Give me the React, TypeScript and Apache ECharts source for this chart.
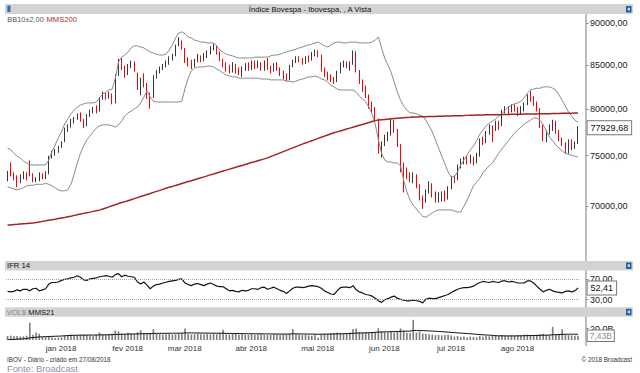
import React, { useEffect, useRef } from "react";
import * as echarts from "echarts";

// ---------- calendar (B3 trading days) ----------
const FIRST_DAY = "2017-12-04";
const LAST_DAY = "2018-08-27";
const HOLIDAYS = ["2017-12-25", "2017-12-29", "2018-01-01", "2018-01-25", "2018-02-12", "2018-02-13", "2018-03-30", "2018-05-01", "2018-05-31", "2018-07-09"];
const MONTH_NAMES = ["jan", "fev", "mar", "abr", "mai", "jun", "jul", "ago", "set", "out", "nov", "dez"];

// ---------- Ibovespa daily candles (points) ----------
const opens = [
  72700, 73250, 73000, 72700, 72300, 72900, 73200, 73500, 73000, 72500,
  72650, 73100, 72800, 73200, 74900, 75300, 75500, 75900, 76450, 77900,
  78000, 78650, 79070, 79380, 78860, 78200, 79350, 79750, 79900, 79800,
  81190, 81680, 81220, 81680, 80700, 83700, 85530, 84700, 83900, 84910,
  85300, 84000, 82000, 83300, 82600, 81300, 81200, 83600, 84200, 84600,
  84900, 85200, 85800, 86050, 87300, 87650, 86950, 85350, 85100, 84800,
  85500, 85900, 85600, 86000, 86400, 86800, 87100, 86400, 85600, 84900,
  84700, 84300, 84900, 84300, 84100, 84600, 85000, 84500, 85350, 84900,
  85200, 84500, 85000, 84700, 84300, 85000, 84500, 84000, 83500, 83300,
  84800, 85400, 85700, 85500, 85300, 85800, 85600, 86300, 86500, 86100,
  84400, 84000, 83500, 83300, 83100, 84200, 85000, 85200, 84900, 85200,
  86400, 84300, 83000, 82200, 81500, 80500, 80100, 78900, 75400, 76300,
  76800, 77200, 78600, 77700, 76100, 74000, 73500, 73000, 72600, 72900,
  72000, 70800, 70600, 71400, 72100, 71100, 70700, 70900, 71000, 70700,
  71700, 72800, 72600, 74000, 74400, 74600, 74400, 74600, 74300, 75000,
  76600, 76500, 77400, 78100, 77700, 78500, 77900, 79700, 80000, 79700,
  80300, 79900, 79600, 79900, 80500, 81500, 81200, 80600, 80000, 78200,
  76600, 77400, 77800, 78600, 77500, 76700, 76200, 75400, 76500, 75900,
  76300,
];
const closes = [
  73250, 73000, 72700, 72300, 72900, 73200, 72700, 73000, 72500, 72650,
  73100, 72800, 73200, 74900, 75300, 75500, 75900, 76400, 77900, 78000,
  78650, 79070, 79380, 78860, 78200, 79350, 79750, 79900, 79800, 81190,
  81680, 81220, 81680, 80680, 83680, 85530, 84700, 83900, 84910, 85300,
  84400, 82400, 83300, 82600, 81300, 81200, 83600, 84200, 84600, 84900,
  85200, 85800, 86050, 87300, 87650, 86950, 85350, 85100, 84800, 85500,
  85900, 85600, 86000, 86400, 86800, 87100, 86400, 85600, 84900, 84700,
  84300, 84900, 84300, 84100, 84600, 85000, 84500, 85350, 84900, 85200,
  84500, 85000, 84700, 84300, 85000, 84500, 84000, 83500, 83300, 84800,
  85400, 85700, 85500, 85300, 85800, 85600, 86300, 86500, 86100, 84400,
  84000, 83500, 83300, 83100, 84200, 85000, 85200, 84900, 85200, 86400,
  84300, 83000, 82200, 81500, 80500, 80100, 78900, 75400, 76300, 76800,
  77200, 78600, 77700, 76100, 73900, 73500, 73000, 72600, 72900, 72000,
  70800, 70600, 71400, 72100, 71100, 70700, 70900, 71000, 70700, 71700,
  72800, 72600, 74000, 74400, 74600, 74400, 74600, 74300, 75000, 76600,
  76500, 77400, 78100, 77700, 78500, 77900, 79700, 80000, 79700, 80300,
  79900, 79600, 79900, 80500, 81500, 81200, 80600, 80000, 78200, 76600,
  77400, 78100, 78600, 77500, 76700, 76200, 75400, 76500, 75900, 76300,
  77929.68,
];
const lows = [
  72400, 72900, 72500, 71800, 72200, 72600, 72500, 72900, 72300, 72300,
  72400, 72600, 72600, 73100, 74700, 75000, 75300, 75800, 76400, 77500,
  77950, 78400, 78800, 78600, 77900, 78100, 79100, 79500, 79500, 79700,
  81000, 81000, 81100, 80500, 80600, 83700, 84400, 83500, 83800, 84600,
  84200, 82100, 81500, 82400, 81100, 80000, 81200, 83400, 84000, 84400,
  84700, 85000, 85500, 86000, 87200, 86800, 85200, 84800, 84500, 84700,
  85300, 85300, 85400, 85800, 86200, 86700, 86200, 85400, 84700, 84200,
  84000, 84100, 84000, 83800, 83600, 84300, 84300, 84400, 84500, 84600,
  84300, 84300, 84400, 84000, 84200, 84300, 83700, 83300, 83100, 83200,
  84700, 85200, 85300, 85000, 85100, 85300, 85500, 86000, 85900, 84200,
  83600, 83200, 83000, 82800, 83000, 84000, 84700, 84600, 84300, 85000,
  84100, 82800, 81900, 81200, 80000, 79500, 78700, 75200, 74800, 76000,
  76500, 77100, 77400, 75900, 73300, 71300, 72600, 72300, 72200, 71700,
  70500, 69700, 70300, 71200, 70800, 70300, 70300, 70400, 70400, 70600,
  71600, 72200, 72500, 73700, 74100, 74100, 74200, 74000, 74200, 74900,
  76100, 76300, 77200, 76400, 77600, 77700, 78100, 79500, 79400, 79600,
  79700, 79200, 79400, 79700, 80400, 80800, 80300, 79700, 77900, 76500,
  76400, 77200, 77600, 77300, 76500, 76000, 75200, 75200, 75600, 75700,
  76200,
];
const highs = [
  73450, 74300, 73300, 73000, 73100, 73400, 73300, 74500, 73200, 72800,
  73300, 73200, 73400, 75000, 75500, 75700, 76000, 76500, 77950, 78300,
  78900, 79100, 79500, 79600, 78900, 79400, 79900, 80200, 80400, 81300,
  81900, 81800, 81900, 81700, 83900, 85700, 85800, 84900, 85100, 85500,
  85400, 84100, 83500, 84000, 82900, 81800, 83800, 84400, 84800, 85100,
  85500, 86000, 86300, 87400, 88300, 87900, 87000, 85900, 85600, 85700,
  86300, 86100, 86400, 86700, 87200, 87500, 87300, 86600, 85700, 85300,
  85000, 85300, 85100, 84700, 84800, 85200, 85300, 85500, 85500, 85500,
  85300, 85500, 85800, 84900, 85200, 85300, 84700, 84300, 84000, 85000,
  85600, 86000, 86000, 85800, 86000, 86100, 86500, 86800, 86700, 86200,
  84700, 84200, 83900, 83600, 84300, 85300, 85500, 85400, 85400, 86700,
  86600, 84400, 83300, 82600, 81600, 80800, 80200, 78950, 76500, 77200,
  77500, 78900, 78800, 77800, 76200, 74300, 73800, 73300, 73300, 73100,
  72100, 71000, 71600, 72400, 72200, 71400, 71300, 71400, 71500, 71900,
  72900, 73000, 74100, 74700, 74900, 75000, 75100, 74900, 75300, 76800,
  77000, 77600, 78300, 78200, 78700, 78700, 79900, 80300, 80300, 80500,
  80500, 80200, 80300, 80700, 81600, 82000, 81400, 80800, 80100, 78300,
  77700, 78300, 78800, 78700, 77700, 76900, 76400, 76700, 76700, 76500,
  78100,
];

// ---------- indicators ----------
const bbUpper = [
  75800, 75600, 75250, 74950, 74750, 74450, 74250, 74050, 74050, 74050,
  74050, 74050, 74050, 74550, 75400, 76100, 76850, 77500, 78350, 78900,
  79450, 79850, 80200, 80400, 80550, 80650, 80650, 80650, 80750, 81200,
  81650, 81850, 82100, 82200, 83450, 85350, 85900, 86150, 86500, 87000,
  87250, 87250, 87100, 87000, 86750, 86500, 86400, 86250, 86150, 86150,
  86250, 86750, 87350, 88200, 88800, 88950, 88700, 88300, 88200, 87950,
  87850, 87700, 87700, 87600, 87600, 87600, 87250, 86750, 86500, 86250,
  86150, 86050, 85900, 85800, 85800, 85800, 85800, 85800, 85900, 85900,
  85900, 85900, 85900, 86050, 86150, 86150, 86250, 86400, 86500, 86650,
  86750, 86850, 87000, 87100, 87250, 87350, 87450, 87600, 87700, 87450,
  87250, 87100, 87350, 87600, 87700, 87700, 87600, 87600, 87700, 87700,
  87700, 87600, 87600, 87600, 87600, 87700, 87950, 88300, 87000, 85800,
  85000, 84150, 83000, 81850, 80950, 80300, 79850, 79550, 79550, 79450,
  79300, 79200, 78750, 78150, 77500, 76650, 75800, 74950, 74150, 73350,
  72800, 72900, 73350, 74050, 74550, 75050, 75600, 76000, 76550, 77250,
  77700, 78150, 78450, 78650, 78900, 79200, 79450, 79850, 80200, 80400,
  80550, 80650, 80850, 81200, 81750, 82100, 82200, 82300, 82300, 82450,
  82450, 82450, 82300, 82100, 81550, 80950, 80300, 79650, 79200, 78750,
  78550,
];
const bbLower = [
  71850, 71750, 71650, 71550, 71650, 71750, 71950, 72000, 72000, 72100,
  72100, 72100, 72200, 72100, 71950, 71750, 71550, 71450, 71450, 71550,
  72100, 73100, 74250, 75250, 76000, 76650, 77050, 77500, 77900, 78150,
  78250, 78250, 78250, 78150, 78000, 78250, 78650, 79200, 79550, 79750,
  80000, 80200, 80650, 81300, 82000, 81300, 80850, 80750, 80750, 80750,
  80750, 80750, 80750, 80750, 80750, 80850, 82300, 83450, 84300, 84600,
  84750, 84750, 84750, 84850, 84850, 84750, 84500, 84300, 84050, 83800,
  83700, 83600, 83600, 83450, 83450, 83450, 83450, 83450, 83450, 83450,
  83350, 83350, 83350, 83250, 83250, 83250, 83250, 83250, 83100, 83100,
  83000, 83100, 83250, 83350, 83450, 83600, 83600, 83700, 83600, 83350,
  83250, 83000, 82650, 82450, 82200, 82100, 82100, 82100, 82100, 82100,
  81850, 81400, 81100, 80750, 80200, 79450, 78350, 76650, 75250, 74550,
  74350, 74350, 74250, 74250, 73950, 72500, 71350, 70550, 70050, 69700,
  69300, 69000, 68900, 69100, 69300, 69500, 69600, 69600, 69600, 69600,
  69600, 69500, 69400, 69400, 69950, 70550, 71250, 71950, 72300, 72700,
  73250, 73650, 73950, 74250, 74750, 75250, 75700, 76100, 76550, 76950,
  77400, 77700, 78000, 78350, 78550, 78750, 79000, 79000, 78750, 78250,
  77600, 76950, 76550, 76100, 75800, 75500, 75250, 75150, 75050, 74950,
  74850,
];
const mms200 = [
  68160, 68180, 68210, 68230, 68260, 68280, 68300, 68330, 68350, 68400,
  68460, 68510, 68560, 68620, 68670, 68720, 68780, 68830, 68880, 68940,
  69000, 69080, 69140, 69200, 69270, 69330, 69390, 69460, 69520, 69580,
  69680, 69780, 69890, 70000, 70100, 70210, 70310, 70400, 70490, 70590,
  70690, 70790, 70890, 70990, 71090, 71190, 71300, 71400, 71500, 71600,
  71700, 71800, 71890, 71990, 72080, 72180, 72270, 72370, 72460, 72560,
  72650, 72750, 72840, 72940, 73040, 73130, 73230, 73330, 73430, 73520,
  73620, 73720, 73810, 73910, 74000, 74100, 74190, 74290, 74380, 74480,
  74570, 74670, 74770, 74900, 75030, 75160, 75290, 75420, 75550, 75680,
  75810, 75940, 76070, 76200, 76320, 76440, 76560, 76680, 76810, 76930,
  77050, 77170, 77290, 77400, 77500, 77600, 77700, 77800, 77900, 78000,
  78100, 78200, 78300, 78400, 78510, 78610, 78710, 78780, 78810, 78840,
  78870, 78900, 78930, 78960, 78990, 79020, 79050, 79070, 79100, 79110,
  79120, 79130, 79140, 79150, 79160, 79170, 79180, 79190, 79200, 79210,
  79220, 79230, 79240, 79250, 79260, 79280, 79290, 79300, 79310, 79320,
  79330, 79340, 79340, 79350, 79360, 79360, 79370, 79380, 79380, 79390,
  79400, 79400, 79410, 79420, 79420, 79430, 79440, 79440, 79450, 79460,
  79470, 79470, 79480, 79490, 79490, 79500, 79510, 79510, 79520, 79530,
  79540,
];
const ifr14 = [
  46, 45, 46, 49, 47, 50, 50, 47, 51, 52,
  47, 49, 51, 60, 63, 63, 64, 67, 69, 70,
  72, 73, 76, 73, 68, 67, 70, 71, 72, 74,
  75, 76, 75, 73, 78, 80, 74, 77, 75, 74,
  73, 64, 60, 64, 58, 51, 56, 59, 60, 62,
  63.5, 65, 66, 67, 69, 70, 62, 59, 57, 60,
  61, 59, 57, 60, 62, 59, 56, 55, 55, 51,
  47, 48, 46, 45, 48, 47, 48, 51, 51, 50,
  53, 54, 50, 52, 54, 51, 48, 46, 42, 47,
  52, 54, 54, 53, 54, 56, 57, 56, 55, 52,
  47, 44, 41, 40, 47, 53, 54, 54, 53, 57,
  49, 45, 43, 40, 39, 37, 33, 28, 25, 30,
  32, 35, 37, 33, 31, 29, 28, 28, 29, 28,
  27, 24, 31, 33, 32, 32, 34, 36, 38, 40,
  44, 47, 50, 52, 53, 53, 54, 56, 60, 63,
  65, 64, 63, 65, 64, 63, 66, 66, 64, 65,
  64, 62, 62, 62, 66, 66, 62, 56, 50, 45,
  48, 50, 47, 45, 44, 43, 46, 47, 45, 47,
  52.41,
];
// financial volume, R$ billions
const volume = [
  7.0, 7.5, 6.5, 7.0, 6.0, 6.5, 7.5, 30.0, 9.0, 13.0,
  11.0, 5.5, 5.0, 6.0, 4.5, 3.5, 4.0, 4.5, 8.0, 8.5,
  9.0, 8.0, 8.5, 9.0, 9.5, 8.5, 8.0, 7.0, 9.0, 13.0,
  10.0, 9.0, 9.5, 11.0, 16.5, 15.0, 11.0, 10.5, 12.5, 11.0,
  10.5, 13.5, 17.0, 12.0, 11.5, 12.0, 19.0, 11.0, 10.5, 9.5,
  10.0, 10.5, 9.5, 10.0, 11.0, 11.5, 20.0, 10.5, 9.5, 10.0,
  11.0, 10.0, 9.5, 10.5, 10.0, 11.0, 10.0, 12.0, 18.0, 10.0,
  9.5, 10.5, 11.0, 9.0, 10.0, 9.5, 9.0, 10.0, 9.0, 9.5,
  10.0, 9.0, 8.5, 9.0, 10.0, 9.5, 9.0, 10.5, 9.5, 11.0,
  19.0, 10.0, 9.0, 8.5, 9.5, 8.0, 7.5, 9.0, 4.0, 10.0,
  11.0, 10.5, 11.5, 12.0, 13.0, 12.5, 11.5, 12.0, 13.0, 19.0,
  20.0, 14.0, 12.5, 13.5, 12.0, 13.0, 14.0, 20.5, 15.0, 13.5,
  13.0, 14.5, 13.0, 15.0, 20.0, 16.0, 12.5, 12.0, 35.0, 13.0,
  15.0, 11.0, 10.5, 10.0, 9.5, 8.5, 9.0, 8.0, 8.5, 9.0,
  8.0, 6.0, 7.0, 5.5, 6.0, 5.0, 6.0, 5.5, 5.0, 7.5,
  5.5, 7.0, 6.5, 7.5, 8.0, 7.0, 8.5, 8.0, 7.5, 8.0,
  7.5, 8.5, 8.0, 9.0, 9.5, 8.5, 8.0, 9.0, 10.0, 11.0,
  9.0, 8.5, 23.0, 9.0, 8.5, 18.5, 9.5, 8.5, 8.0, 7.5,
  7.43,
];
const volMms21 = [
  0.3, 0.7, 1.0, 1.4, 1.7, 2.0, 2.4, 3.8, 4.2, 4.8,
  5.3, 5.6, 5.8, 6.1, 6.3, 6.5, 6.7, 6.9, 7.3, 7.7,
  8.1, 8.2, 8.3, 8.4, 8.5, 8.5, 8.6, 8.6, 8.7, 8.8,
  8.9, 9.0, 9.1, 9.3, 9.6, 9.8, 10.0, 10.1, 10.3, 10.4,
  10.5, 10.6, 10.8, 10.9, 11.0, 11.1, 11.4, 11.5, 11.6, 11.6,
  11.7, 11.7, 11.8, 11.8, 11.9, 11.9, 12.3, 12.3, 12.3, 12.2,
  12.2, 12.1, 12.0, 12.0, 11.9, 11.9, 11.8, 11.8, 11.9, 11.5,
  11.4, 11.3, 11.3, 11.2, 11.1, 11.0, 10.9, 10.9, 10.8, 10.8,
  10.7, 10.7, 10.6, 10.5, 10.5, 10.4, 10.4, 10.4, 10.3, 10.4,
  10.8, 10.7, 10.6, 10.5, 10.4, 10.3, 10.2, 10.2, 10.0, 10.1,
  10.2, 10.3, 10.4, 10.5, 10.6, 10.8, 10.9, 11.0, 11.2, 11.6,
  12.0, 12.2, 12.3, 12.5, 12.7, 12.9, 13.4, 13.7, 14.0, 14.1,
  14.3, 14.5, 14.6, 14.8, 15.1, 15.3, 15.4, 15.4, 16.5, 16.5,
  16.6, 16.3, 16.0, 15.8, 15.5, 15.2, 14.9, 14.5, 14.1, 13.7,
  13.2, 12.8, 12.4, 12.0, 11.6, 11.2, 10.8, 10.4, 9.9, 9.5,
  9.0, 8.7, 8.4, 8.1, 7.5, 7.3, 7.2, 7.1, 7.1, 7.1,
  7.1, 7.2, 7.3, 7.4, 7.6, 7.7, 7.8, 7.9, 8.1, 8.3,
  8.4, 8.5, 9.2, 9.3, 9.4, 9.9, 10.0, 10.1, 10.1, 10.0,
  10.0,
];

// ---------- axis settings ----------
const PRICE_TICKS = [70000, 75000, 80000, 85000, 90000];
const PRICE_RANGE = [65140, 91160];
const IFR_TICKS = [30, 70];
const IFR_RANGE = [18, 85];
const VOL_TICKS = [20];
const VOL_RANGE = [0, 40];

const FONT = '"Liberation Sans", Arial, sans-serif';
const GRID_LEFT = 6;
const GRID_W = 573.6;
const AXIS_OFF = 6.4;
const HEADER_FILL = "#d3d3d3";

function tradingDays(): string[] {
  const out: string[] = [];
  const end = Date.parse(LAST_DAY + "T00:00:00Z");
  for (let t = Date.parse(FIRST_DAY + "T00:00:00Z"); t <= end; t += 86400000) {
    const d = new Date(t);
    const wd = d.getUTCDay();
    const s = d.toISOString().slice(0, 10);
    if (wd !== 0 && wd !== 6 && HOLIDAYS.indexOf(s) < 0) out.push(s);
  }
  return out;
}

const br = (v: number, d: number) => v.toFixed(d).replace(".", ",");

function buildOption() {
  const dates = tradingDays();
  const L = Math.log;
  const candle = dates.map((_, i) => [L(opens[i]), L(closes[i]), L(lows[i]), L(highs[i])]);
  const monthStart = dates.map((d, i) => i > 0 && d.slice(0, 7) !== dates[i - 1].slice(0, 7));
  const lastClose = closes[closes.length - 1];
  const lastIfr = ifr14[ifr14.length - 1];
  const lastVol = volume[volume.length - 1];

  const boxLabel = (fmt: (v: number) => string, color: string, size = 9, pad = [2, 3, 1, 3]) => ({
    show: true,
    position: "end",
    distance: 8,
    formatter: (p: any) => fmt(p.value),
    backgroundColor: "#fff",
    borderColor: "#777",
    borderWidth: 1,
    padding: pad,
    fontSize: size,
    lineHeight: size + 1,
    fontFamily: FONT,
    color,
  });

  const xAxisBase = (gridIndex: number) => ({
    type: "category",
    gridIndex,
    data: dates,
    boundaryGap: true,
    axisLine: { show: false },
    axisTick: { show: false },
    axisLabel: { show: false },
    splitLine: { show: false },
  });

  const yAxisBase = (gridIndex: number, min: number, max: number, ticks: number[], fmt: (v: number) => string) => ({
    type: "value",
    gridIndex,
    position: "right",
    offset: AXIS_OFF,
    min,
    max,
    axisLine: { show: false },
    splitLine: { show: false },
    axisTick: { show: true, length: 2.5, customValues: ticks, lineStyle: { color: "#888", width: 1 } },
    axisLabel: { customValues: ticks, formatter: fmt, fontSize: 9, color: "#222", margin: 4, fontFamily: FONT },
  });

  const txt = (x: number, y: number, text: string, size: number, fill: string, align = "left") => ({
    type: "text",
    x,
    y,
    z: 110,
    style: { text, fill, font: `${size}px ${FONT}`, textAlign: align, textVerticalAlign: "middle" },
  });
  const icon = (x: number, y: number) => [
    { type: "rect", z: 110, shape: { x, y, width: 5.5, height: 6.5 }, style: { fill: "#23609f" } },
    { type: "rect", z: 111, shape: { x: x + 1.7, y: y + 1.8, width: 2.2, height: 2.6 }, style: { fill: "#cfe0f2" } },
  ];

  return {
    animation: false,
    backgroundColor: "#ffffff",
    textStyle: { fontFamily: FONT },
    grid: [
      { left: GRID_LEFT, top: 14, width: GRID_W, height: 244 },
      { left: GRID_LEFT, top: 271, width: GRID_W, height: 35 },
      { left: GRID_LEFT, top: 317, width: GRID_W, height: 23 },
    ],
    xAxis: [
      xAxisBase(0),
      xAxisBase(1),
      {
        ...xAxisBase(2),
        axisLabel: {
          show: true,
          interval: (index: number) => monthStart[index],
          formatter: (v: string) => MONTH_NAMES[parseInt(v.slice(5, 7), 10) - 1] + " " + v.slice(0, 4),
          fontSize: 8,
          color: "#333",
          margin: 4,
          padding: [0, 7, 0, 0],
          fontFamily: FONT,
        },
      },
    ],
    yAxis: [
      yAxisBase(0, L(PRICE_RANGE[0]), L(PRICE_RANGE[1]), PRICE_TICKS.map(L), (v: number) => br(Math.round(Math.exp(v)), 2)),
      yAxisBase(1, IFR_RANGE[0], IFR_RANGE[1], IFR_TICKS, (v: number) => br(v, 2)),
      yAxisBase(2, VOL_RANGE[0], VOL_RANGE[1], VOL_TICKS, (v: number) => br(v, 1) + "B"),
    ],
    series: [
      {
        name: "BB sup",
        type: "line",
        xAxisIndex: 0,
        yAxisIndex: 0,
        data: bbUpper.map(L),
        symbol: "none",
        lineStyle: { color: "#8a8a8a", width: 1 },
        silent: true,
      },
      {
        name: "BB inf",
        type: "line",
        xAxisIndex: 0,
        yAxisIndex: 0,
        data: bbLower.map(L),
        symbol: "none",
        lineStyle: { color: "#8a8a8a", width: 1 },
        silent: true,
      },
      {
        name: "IBOV",
        type: "candlestick",
        xAxisIndex: 0,
        yAxisIndex: 0,
        data: candle,
        barWidth: 1.3,
        itemStyle: {
          color: "#383838",
          color0: "#ff0000",
          borderColor: "#383838",
          borderColor0: "#ff0000",
          borderWidth: 1,
        },
        markLine: {
          silent: true,
          precision: 12,
          symbol: ["none", "none"],
          lineStyle: { color: "rgba(0,0,0,0)", width: 0 },
          label: boxLabel((v) => br(Math.exp(v), 2), "#111"),
          data: [{ yAxis: L(lastClose) }],
        },
      },
      {
        name: "MMS200",
        type: "line",
        xAxisIndex: 0,
        yAxisIndex: 0,
        data: mms200.map(L),
        symbol: "none",
        lineStyle: { color: "#a02428", width: 1.5 },
        silent: true,
      },
      {
        name: "IFR 14",
        type: "line",
        xAxisIndex: 1,
        yAxisIndex: 1,
        data: ifr14,
        symbol: "none",
        lineStyle: { color: "#151515", width: 1.2 },
        silent: true,
        markLine: {
          silent: true,
          precision: 12,
          symbol: ["none", "none"],
          label: { show: false },
          data: [
            { yAxis: 70, lineStyle: { color: "#a8a8a8", width: 1, type: "dotted" } },
            { yAxis: 30, lineStyle: { color: "#a8a8a8", width: 1, type: "dotted" } },
            {
              yAxis: lastIfr,
              lineStyle: { color: "rgba(0,0,0,0)", width: 0 },
              label: boxLabel((v) => br(v, 2), "#111"),
            },
          ],
        },
      },
      {
        name: "VOL$",
        type: "bar",
        xAxisIndex: 2,
        yAxisIndex: 2,
        data: volume,
        barWidth: 1.6,
        itemStyle: { color: "#7c7c7c" },
        silent: true,
        markLine: {
          silent: true,
          precision: 12,
          symbol: ["none", "none"],
          lineStyle: { color: "rgba(0,0,0,0)", width: 0 },
          label: boxLabel((v) => br(v, 2) + "B", "#8a8a8a", 8.5, [1, 2, 0, 2]),
          data: [{ yAxis: lastVol }],
        },
      },
      {
        name: "MMS21",
        type: "line",
        xAxisIndex: 2,
        yAxisIndex: 2,
        data: volMms21,
        symbol: "none",
        lineStyle: { color: "#111", width: 1 },
        silent: true,
      },
    ],
    graphic: {
      elements: [
        { type: "line", z: 100, shape: { x1: 586, y1: 14, x2: 586, y2: 346 }, style: { stroke: "#9a9a9a", lineWidth: 1.3 } },
        { type: "rect", z: 105, shape: { x: 5, y: 4, width: 628, height: 10 }, style: { fill: HEADER_FILL } },
        { type: "rect", z: 105, shape: { x: 5, y: 261, width: 628, height: 9.5 }, style: { fill: HEADER_FILL } },
        { type: "rect", z: 105, shape: { x: 5, y: 307.3, width: 628, height: 9.5 }, style: { fill: HEADER_FILL } },
        { type: "rect", z: 110, shape: { x: 7.3, y: 5.5, width: 3.2, height: 6.5 }, style: { fill: "#2f6db5" } },
        ...icon(626, 6),
        ...icon(626, 262.5),
        ...icon(626, 308.8),
        txt(310, 9.2, "Índice Bovespa - Ibovespa, , A Vista", 7.7, "#111", "center"),
        txt(7.3, 19, "BB10±2,00", 7.4, "#555"),
        txt(46.5, 19, "MMS200", 7.6, "#b0282c"),
        txt(7, 265.8, "IFR 14", 7.7, "#111"),
        txt(6.7, 312, "VOL$", 7.5, "#8a8a8a"),
        txt(28.3, 312, "MMS21", 7.6, "#111"),
        txt(7, 359.6, "IBOV - Diário - criado em 27/08/2018", 6.3, "#333"),
        txt(632, 359.6, "© 2018 Broadcast", 6.3, "#333", "right"),
        txt(7, 369.3, "Fonte: Broadcast", 9.3, "#8592ad"),
      ],
    },
  };
}

export default function App() {
  const ref = useRef<HTMLDivElement>(null);
  useEffect(() => {
    const chart = echarts.init(ref.current as HTMLDivElement, undefined, { renderer: "svg", width: 640, height: 373 });
    chart.setOption(buildOption() as any);
    return () => chart.dispose();
  }, []);
  return (
    <div
      ref={ref}
      style={{ position: "fixed", left: 0, top: 0, width: 640, height: 373, background: "#fff" }}
    />
  );
}
